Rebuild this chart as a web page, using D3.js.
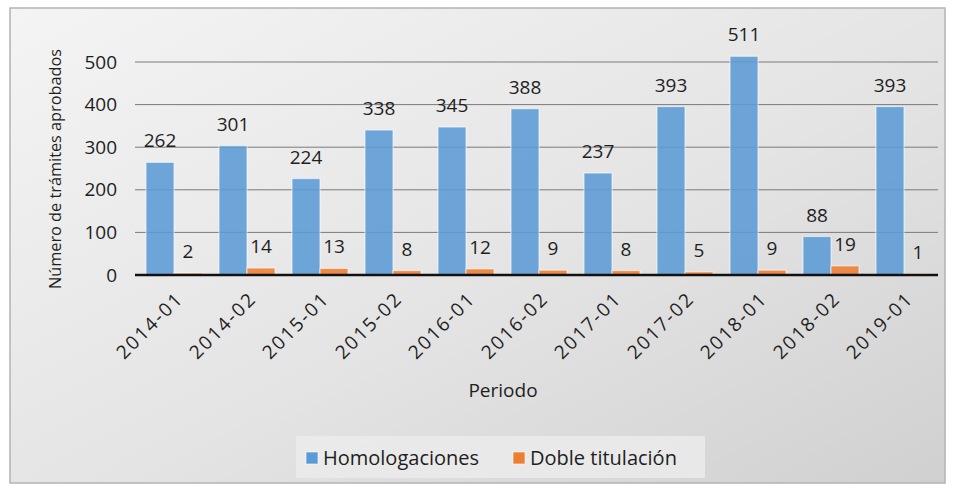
<!DOCTYPE html>
<html>
<head>
<meta charset="utf-8">
<script src="https://cdn.jsdelivr.net/npm/d3@7"></script>
<style>
  body { margin: 0; background: #fff; }
  svg text { font-family: "Open Sans", "Noto Sans", sans-serif; fill: #1e1e1e; }
</style>
</head>
<body>
<svg id="chart" width="955" height="492"></svg>
<script>
// periods on the x axis
const periodos = ["2014-01", "2014-02", "2015-01", "2015-02", "2016-01", "2016-02",
                  "2017-01", "2017-02", "2018-01", "2018-02", "2019-01"];
// approved procedures per period
const homologaciones = [262, 301, 224, 338, 345, 388, 237, 393, 511, 88, 393];
const dobleTitulacion = [2, 14, 13, 8, 12, 9, 8, 5, 9, 19, 1];
const series = ["Homologaciones", "Doble titulación"];
const yTicks = [0, 100, 200, 300, 400, 500];

const colors = { "Homologaciones": "#5b9bd5", "Doble titulación": "#ed7d31" };

const svg = d3.select("#chart");

// background panel with soft gradient
const defs = svg.append("defs");
const grad = defs.append("linearGradient")
  .attr("id", "bg")
  .attr("x1", "0%").attr("y1", "0%")
  .attr("x2", "100%").attr("y2", "100%");
grad.append("stop").attr("offset", "0%").attr("stop-color", "#f4f4f4");
grad.append("stop").attr("offset", "55%").attr("stop-color", "#e4e4e4");
grad.append("stop").attr("offset", "100%").attr("stop-color", "#d0d0d0");

svg.append("rect")
  .attr("x", 10).attr("y", 8)
  .attr("width", 935).attr("height", 475)
  .attr("fill", "url(#bg)")
  .attr("stroke", "#b3b3b3")
  .attr("stroke-width", 1.5);

const plot = { left: 135, right: 938, top: 62, bottom: 275 };

const x0 = d3.scaleBand()
  .domain(periodos)
  .range([plot.left, plot.right]);

const x1 = d3.scaleBand()
  .domain(series)
  .range([11, 67]);

const y = d3.scaleLinear()
  .domain([0, 500])
  .range([plot.bottom, plot.top]);

// gridlines
svg.append("g")
  .selectAll("line")
  .data(yTicks.filter(d => d > 0))
  .enter()
  .append("line")
  .attr("x1", plot.left).attr("x2", plot.right)
  .attr("y1", d => y(d)).attr("y2", d => y(d))
  .attr("stroke", "#7a7a7a")
  .attr("stroke-width", 1);

// y tick labels
svg.append("g")
  .selectAll("text")
  .data(yTicks)
  .enter()
  .append("text")
  .attr("x", 117)
  .attr("y", d => y(d) + 6.5)
  .attr("text-anchor", "end")
  .style("font-size", "19px")
  .text(d => d);

const rows = periodos.map((p, i) => ({
  periodo: p,
  values: [
    { key: series[0], value: homologaciones[i] },
    { key: series[1], value: dobleTitulacion[i] }
  ]
}));

const groups = svg.append("g")
  .selectAll("g")
  .data(rows)
  .enter()
  .append("g")
  .attr("transform", d => "translate(" + x0(d.periodo) + ",0)");

groups.selectAll("rect")
  .data(d => d.values)
  .enter()
  .append("rect")
  .attr("x", d => x1(d.key))
  .attr("width", x1.bandwidth())
  .attr("y", d => y(d.value) - 1)
  .attr("height", d => y(0) - y(d.value) + 1)
  .attr("fill", d => colors[d.key])
  .attr("fill-opacity", 0.88)
  .attr("stroke", "rgba(255,255,255,0.55)")
  .attr("stroke-width", 1.2);

groups.selectAll("text")
  .data(d => d.values)
  .enter()
  .append("text")
  .attr("x", d => x1(d.key) + x1.bandwidth() / 2)
  .attr("y", d => y(d.value) - 16)
  .attr("text-anchor", "middle")
  .style("font-size", "19px")
  .text(d => d.value);

// zero line
svg.append("line")
  .attr("x1", plot.left).attr("x2", plot.right)
  .attr("y1", y(0)).attr("y2", y(0))
  .attr("stroke", "#111")
  .attr("stroke-width", 2.5);

// x tick labels, rotated
svg.append("g")
  .selectAll("text")
  .data(periodos)
  .enter()
  .append("text")
  .attr("transform", d => "translate(" + (x0(d) + x0.bandwidth() / 2 + 13) + "," + 300 + ") rotate(-45)")
  .attr("text-anchor", "end")
  .style("font-size", "19px")
  .style("letter-spacing", "2px")
  .text(d => d);

// axis titles
svg.append("text")
  .attr("transform", "translate(61,169) rotate(-90)")
  .attr("text-anchor", "middle")
  .style("font-size", "16.3px")
  .text("Número de trámites aprobados");

svg.append("text")
  .attr("x", 503)
  .attr("y", 397)
  .attr("text-anchor", "middle")
  .style("font-size", "19px")
  .text("Periodo");

// legend
const legend = svg.append("g");
legend.append("rect")
  .attr("x", 296).attr("y", 436)
  .attr("width", 409).attr("height", 42)
  .attr("fill", "#ebebeb")
  .attr("fill-opacity", 0.85);

const legendX = [306, 513];
const items = legend.selectAll("g")
  .data(series)
  .enter()
  .append("g")
  .attr("transform", (d, i) => "translate(" + legendX[i] + ",452)");

items.append("rect")
  .attr("width", 12).attr("height", 12)
  .attr("fill", d => colors[d])
  .attr("stroke", "rgba(255,255,255,0.6)");

items.append("text")
  .attr("x", 17)
  .attr("y", 13)
  .style("font-size", "20px")
  .text(d => d);
</script>
</body>
</html>
